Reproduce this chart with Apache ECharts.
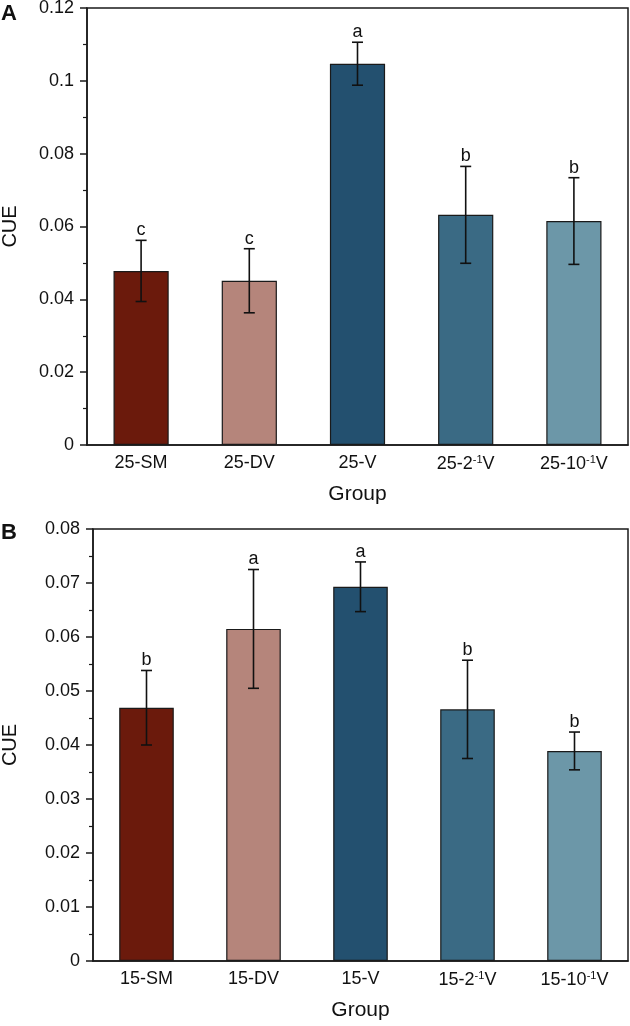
<!DOCTYPE html>
<html>
<head>
<meta charset="utf-8">
<script src="https://cdn.jsdelivr.net/npm/echarts@6/dist/echarts.min.js"></script>
<style>
html,body{margin:0;padding:0;background:#fff;}
#main{width:630px;height:1026px;}
</style>
</head>
<body>
<div id="main"></div>
<script>
// Panel A data
var categoriesA = ['25-SM', '25-DV', '25-V', '25-2{sup|-1}V', '25-10{sup|-1}V'];
var meansA = [0.0478, 0.0451, 0.1047, 0.0632, 0.0615];
var errorsA = [0.0084, 0.0088, 0.0059, 0.0133, 0.0119];
var lettersA = ['c', 'c', 'a', 'b', 'b'];
var ticksA = { min: 0, max: 0.12, interval: 0.02 };

// Panel B data
var categoriesB = ['15-SM', '15-DV', '15-V', '15-2{sup|-1}V', '15-10{sup|-1}V'];
var meansB = [0.0469, 0.0615, 0.0693, 0.0466, 0.0389];
var errorsB = [0.0069, 0.0110, 0.0046, 0.0091, 0.0035];
var lettersB = ['b', 'a', 'a', 'b', 'b'];
var ticksB = { min: 0, max: 0.08, interval: 0.01 };

var barColors = ['#6B1A0C', '#B5857B', '#23506F', '#3A6A84', '#6C97A8'];

var FONT = 'Liberation Sans, Arial, sans-serif';
var AXC = '#1a1a1a';

function xAxisCfg(idx, cats) {
  return {
    type: 'category', gridIndex: idx, data: cats,
    axisLine: { lineStyle: { color: AXC, width: 1.5 } },
    axisTick: { alignWithLabel: true, length: 6, lineStyle: { color: AXC, width: 1.5 } },
    axisLabel: {
      interval: 0,
      color: '#111', fontSize: 18, fontFamily: FONT, margin: 9,
      rich: { sup: { fontSize: 11, fontFamily: FONT, color: '#111', padding: [0, 0, 9, 0] } }
    },
    name: 'Group', nameLocation: 'middle', nameGap: 39,
    nameTextStyle: { color: '#111', fontSize: 21, fontFamily: FONT }
  };
}
function yAxisCfg(idx, t, fmt, gap) {
  return {
    type: 'value', gridIndex: idx, min: t.min, max: t.max, interval: t.interval,
    axisLine: { show: true, lineStyle: { color: AXC, width: 1.5 } },
    axisTick: { show: true, length: 7, lineStyle: { color: AXC, width: 1.5 } },
    minorTick: { show: true, splitNumber: 2, length: 4, lineStyle: { color: AXC, width: 1.2 } },
    splitLine: { show: false },
    axisLabel: {
      color: '#111', fontSize: 18, fontFamily: FONT, margin: 13,
      formatter: function (v) { return fmt(v); }
    },
    name: 'CUE', nameLocation: 'middle', nameGap: gap,
    nameTextStyle: { color: '#111', fontSize: 20, fontFamily: FONT }
  };
}
function fmtA(v) { return v === 0 ? '0' : parseFloat(v.toFixed(2)).toString(); }
function fmtB(v) { return v === 0 ? '0' : v.toFixed(2); }

function barSeries(idx, means) {
  return {
    type: 'bar', xAxisIndex: idx, yAxisIndex: idx,
    barWidth: '51%',
    data: means.map(function (m, i) {
      return { value: m, itemStyle: { color: barColors[i] } };
    }),
    itemStyle: { borderColor: '#1a1a1a', borderWidth: 1.2 },
    silent: true
  };
}
function errSeries(idx, means, errs, letters) {
  var data = means.map(function (m, i) { return [i, m - errs[i], m + errs[i]]; });
  return {
    type: 'custom', xAxisIndex: idx, yAxisIndex: idx, z: 10,
    data: data,
    renderItem: function (params, api) {
      var i = api.value(0);
      var lo = api.coord([i, api.value(1)]);
      var hi = api.coord([i, api.value(2)]);
      var hw = 5.5;
      var st = { stroke: '#111', lineWidth: 1.6 };
      return {
        type: 'group',
        children: [
          { type: 'line', shape: { x1: hi[0], y1: hi[1], x2: lo[0], y2: lo[1] }, style: st },
          { type: 'line', shape: { x1: hi[0] - hw, y1: hi[1], x2: hi[0] + hw, y2: hi[1] }, style: st },
          { type: 'line', shape: { x1: lo[0] - hw, y1: lo[1], x2: lo[0] + hw, y2: lo[1] }, style: st },
          { type: 'text', x: hi[0], y: hi[1] - 1,
            style: { text: letters[i], fill: '#111', fontSize: 18, fontFamily: FONT,
                     align: 'center', verticalAlign: 'bottom' } }
        ]
      };
    }
  };
}

var chart = echarts.init(document.getElementById('main'), null, { renderer: 'canvas' });
chart.setOption({
  backgroundColor: '#fff',
  animation: false,
  title: [
    { text: 'A', left: 1, top: 3, padding: 0, textStyle: { fontSize: 22, fontWeight: 'bold', color: '#111', fontFamily: FONT } },
    { text: 'B', left: 1, top: 522, padding: 0, textStyle: { fontSize: 22, fontWeight: 'bold', color: '#111', fontFamily: FONT } }
  ],
  grid: [
    { left: 87, right: 2, top: 8, height: 437, containLabel: false, outerBoundsMode: 'none', show: true, borderColor: AXC, borderWidth: 1.5, backgroundColor: 'transparent' },
    { left: 93, right: 2, top: 529, height: 432, containLabel: false, outerBoundsMode: 'none', show: true, borderColor: AXC, borderWidth: 1.5, backgroundColor: 'transparent' }
  ],
  xAxis: [xAxisCfg(0, categoriesA), xAxisCfg(1, categoriesB)],
  yAxis: [yAxisCfg(0, ticksA, fmtA, 67), yAxisCfg(1, ticksB, fmtB, 73)],
  series: [
    barSeries(0, meansA), errSeries(0, meansA, errorsA, lettersA),
    barSeries(1, meansB), errSeries(1, meansB, errorsB, lettersB)
  ]
});
</script>
</body>
</html>
